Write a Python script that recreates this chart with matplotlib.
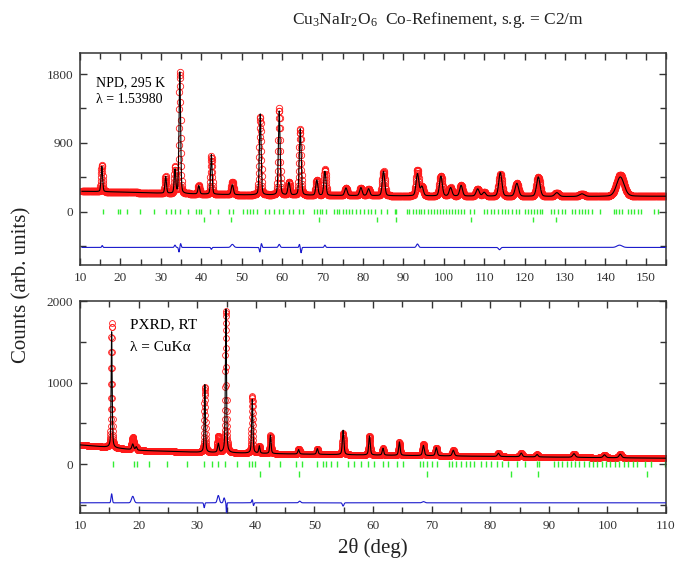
import numpy as np
import matplotlib
matplotlib.use('Agg')
import matplotlib.pyplot as plt
from matplotlib.ticker import MultipleLocator

plt.rcParams['font.family'] = ['Liberation Serif', 'DejaVu Serif']
plt.rcParams['mathtext.fontset'] = 'custom'
plt.rcParams['mathtext.rm'] = 'Liberation Serif'
plt.rcParams['mathtext.it'] = 'Liberation Serif:italic'

# ---------------- NPD (top panel) ----------------
npd_bg_x = [10, 20, 30, 40, 50, 70, 90, 110, 130, 155]
npd_bg_y = [265, 255, 240, 228, 218, 210, 205, 200, 195, 200]
npd_pk_pos = [15.4, 31.2, 33.5, 34.7, 39.4, 42.5, 47.7, 54.6, 59.3, 61.7, 64.5,
              68.6, 70.6, 75.8, 79.5, 81.4, 85.1, 93.5, 94.6, 99.3, 101.7, 104.3,
              108.4, 110.0, 114.0, 118.1, 123.4, 128.0, 134.2, 143.7]
npd_pk_hgt = [330, 220, 310, 1590, 110, 520, 130, 1060, 1100, 165, 870,
              200, 315, 100, 105, 90, 320, 290, 120, 260, 110, 140,
              95, 50, 310, 170, 255, 50, 35, 255]
npd_pk_fwhm = [0.45, 0.45, 0.45, 0.45, 0.5, 0.45, 0.6, 0.5, 0.5, 0.6, 0.55,
               0.6, 0.6, 0.7, 0.7, 0.7, 0.7, 0.8, 0.8, 0.8, 0.8, 0.8,
               0.9, 0.9, 0.9, 1.0, 1.0, 1.2, 1.5, 2.2]
npd_diff_pos = [15.5, 33.5, 34.5, 34.9, 42.5, 47.7, 54.5, 54.9, 59.3, 64.3, 64.7,
                70.6, 93.5, 113.8, 143.5]
npd_diff_amp = [25, 30, -60, 50, -25, 40, -60, 50, 40, 40, -70, 30, 45, -30, 30]
npd_diff_wid = [0.3, 0.4, 0.3, 0.3, 0.3, 0.8, 0.3, 0.3, 0.5, 0.3, 0.3, 0.4, 0.6, 0.6, 1.5]
npd_diff_offset = -470

# ---------------- PXRD (bottom panel) ----------------
xrd_bg_x = [10, 15, 20, 30, 45, 60, 80, 100, 110]
xrd_bg_y = [235, 205, 168, 145, 125, 110, 94, 78, 72]
xrd_pk_pos = [15.4, 19.0, 19.6, 31.3, 33.6, 34.9, 39.4, 40.6, 42.5, 47.3, 50.5,
              54.9, 59.4, 61.7, 64.5, 68.6, 70.8, 73.7, 81.4, 85.3, 88.0, 94.3,
              99.5, 102.2]
xrd_pk_hgt = [1420, 70, 40, 830, 110, 1760, 660, 90, 225, 55, 70,
              300, 235, 85, 165, 125, 100, 70, 40, 45, 30, 45, 35, 45]
xrd_pk_fwhm = [0.2, 0.35, 0.3, 0.22, 0.3, 0.22, 0.25, 0.25, 0.25, 0.3, 0.3,
               0.3, 0.3, 0.3, 0.3, 0.35, 0.35, 0.4, 0.4, 0.4, 0.4, 0.5, 0.5, 0.5]
xrd_diff_pos = [15.4, 19.0, 31.2, 33.6, 34.6, 35.0, 39.4, 39.6, 47.5, 54.9, 68.6]
xrd_diff_amp = [110, 80, -60, 90, 60, -150, 40, -40, 20, -40, 15]
xrd_diff_wid = [0.25, 0.5, 0.2, 0.4, 0.3, 0.12, 0.25, 0.2, 0.4, 0.3, 0.5]
xrd_diff_offset = -475

# ---------------- Bragg reflections ----------------
main_refl = [15.6, 19.3, 19.8, 21.7, 24.9, 28.3, 31.2, 32.5, 33.5, 34.7, 36.8, 38.8,
             39.4, 39.9, 42.2, 44.1, 46.8, 47.8, 50.4, 51.4, 52.0, 52.9, 53.9, 55.8,
             56.8, 58.0, 59.2, 60.2, 61.7, 62.6, 64.1, 65.1, 68.0, 68.6, 69.3, 70.0,
             70.9, 72.9, 73.5, 74.2, 75.0, 75.8, 76.5, 77.3, 78.4, 79.2, 80.2, 81.2,
             82.0, 83.1, 84.6, 86.0, 88.0, 88.3, 90.9, 91.5, 92.3, 93.1, 93.8, 94.5,
             95.2, 96.0, 96.8, 97.5, 98.3, 99.0, 99.8, 100.5, 101.3, 102.0, 102.8,
             103.5, 104.3, 105.0, 106.5, 107.5, 109.9, 110.8, 111.6, 112.5, 113.4,
             114.3, 115.2, 116.0, 116.9, 117.8, 118.7, 120.1, 120.8, 121.5, 122.3,
             123.0, 123.7, 124.2, 126.5, 127.4, 128.3, 129.2, 129.9, 131.8, 132.6,
             133.4, 134.2, 135.0, 135.7, 136.7, 138.7, 142.1, 142.7, 143.4, 144.0,
             145.5, 146.4, 147.2, 148.0, 148.9, 152.1, 153.1]
ir_refl = [40.7, 47.3, 69.2, 83.5, 88.1, 106.8, 122.2, 127.9]


def profile(x, bgx, bgy, pos, hgt, fw, eta):
    y = np.interp(x, bgx, bgy)
    for p, h, w in zip(pos, hgt, fw):
        g = np.exp(-4 * np.log(2) * ((x - p) / w) ** 2)
        l = 1.0 / (1.0 + 4 * ((x - p) / w) ** 2)
        y = y + h * ((1 - eta) * g + eta * l)
    return y


def bumps(x, pos, amp, wid):
    y = np.zeros_like(x)
    for p, a, w in zip(pos, amp, wid):
        y = y + a * np.exp(-4 * np.log(2) * ((x - p) / w) ** 2)
    return y


W, H = 678, 565
fig = plt.figure(figsize=(W / 100, H / 100), dpi=100)

red = '#ff1a1a'
blue = '#1a1acc'
green = '#33ee33'


def style_axes(ax, xmaj, ymaj, ymin_loc):
    ax.xaxis.set_major_locator(MultipleLocator(xmaj))
    ax.xaxis.set_minor_locator(MultipleLocator(5))
    ax.yaxis.set_major_locator(MultipleLocator(ymaj))
    ax.yaxis.set_minor_locator(MultipleLocator(ymin_loc))
    ax.tick_params(which='both', direction='in', top=True, right=True,
                   labelsize=9.5, colors='#333333', width=1.0)
    ax.tick_params(which='major', length=5, pad=5)
    ax.tick_params(which='minor', length=4)
    for s in ax.spines.values():
        s.set_color('#333333')
        s.set_linewidth(1.1)


def draw_panel(ax, x, bgx, bgy, pos, hgt, fw, eta, dpos, damp, dwid, doff,
               refl1, refl2, r1, r2, ms):
    calc = profile(x, bgx, bgy, pos, hgt, fw, eta)
    dev = bumps(x, dpos, damp, dwid)
    obs = calc + dev
    ax.plot(x, obs, linestyle='none', marker='o', markersize=ms,
            markerfacecolor='none', markeredgecolor=red, markeredgewidth=0.6, zorder=2)
    ax.plot(x, calc, color='black', linewidth=0.8, zorder=3)
    ax.plot(x, doff + dev, color=blue, linewidth=0.8, zorder=3)
    ax.vlines(refl1, r1[0], r1[1], color=green, linewidth=1.0, zorder=2)
    ax.vlines(refl2, r2[0], r2[1], color=green, linewidth=1.0, zorder=2)


# top panel
ax1 = fig.add_axes([80 / W, 1 - 265 / H, 586 / W, 212 / H])
x1 = np.arange(10.5, 155.0, 0.05)
draw_panel(ax1, x1, npd_bg_x, npd_bg_y, npd_pk_pos, npd_pk_hgt, npd_pk_fwhm, 0.25,
           npd_diff_pos, npd_diff_amp, npd_diff_wid, npd_diff_offset,
           main_refl, ir_refl, (-33, 33), (-78, -143), 4.6)
ax1.set_xlim(10, 155)
ax1.set_ylim(-700, 2075)
ax1.set_yticks([0, 900, 1800])
style_axes(ax1, 10, 900, 450)
ax1.text(0.028, 0.858, 'NPD, 295 K', transform=ax1.transAxes, fontsize=10, va='center')
ax1.text(0.028, 0.783, 'λ = 1.53980', transform=ax1.transAxes, fontsize=10, va='center')

# bottom panel
ax2 = fig.add_axes([80 / W, 1 - 513 / H, 586 / W, 212 / H])
x2 = np.arange(10.0, 110.0, 0.02)
xrd_main = [r for r in main_refl if r < 110]
draw_panel(ax2, x2, xrd_bg_x, xrd_bg_y, xrd_pk_pos, xrd_pk_hgt, xrd_pk_fwhm, 0.5,
           xrd_diff_pos, xrd_diff_amp, xrd_diff_wid, xrd_diff_offset,
           xrd_main, ir_refl, (-41, 32), (-82, -155), 4.2)
ax2.set_xlim(10, 110)
ax2.set_ylim(-600, 2000)
style_axes(ax2, 10, 1000, 500)
ax2.text(0.085, 0.887, 'PXRD, RT', transform=ax2.transAxes, fontsize=11, va='center')
ax2.text(0.085, 0.783, 'λ = CuKα', transform=ax2.transAxes, fontsize=11, va='center')

fig.text(438 / W, 1 - 20 / H, 'Cu$_3$NaIr$_2$O$_6$  Co-Refinement, s.g. = C2/m',
         ha='center', va='center', fontsize=12.5, color='#222222')
fig.text(22 / W, 1 - 285 / H, 'Counts (arb. units)', rotation=90,
         ha='center', va='center', fontsize=15, color='#222222')
fig.text(373 / W, 1 - 548 / H, '2θ (deg)', ha='center', va='center',
         fontsize=15, color='#222222')

fig.savefig('out.png', dpi=100)
